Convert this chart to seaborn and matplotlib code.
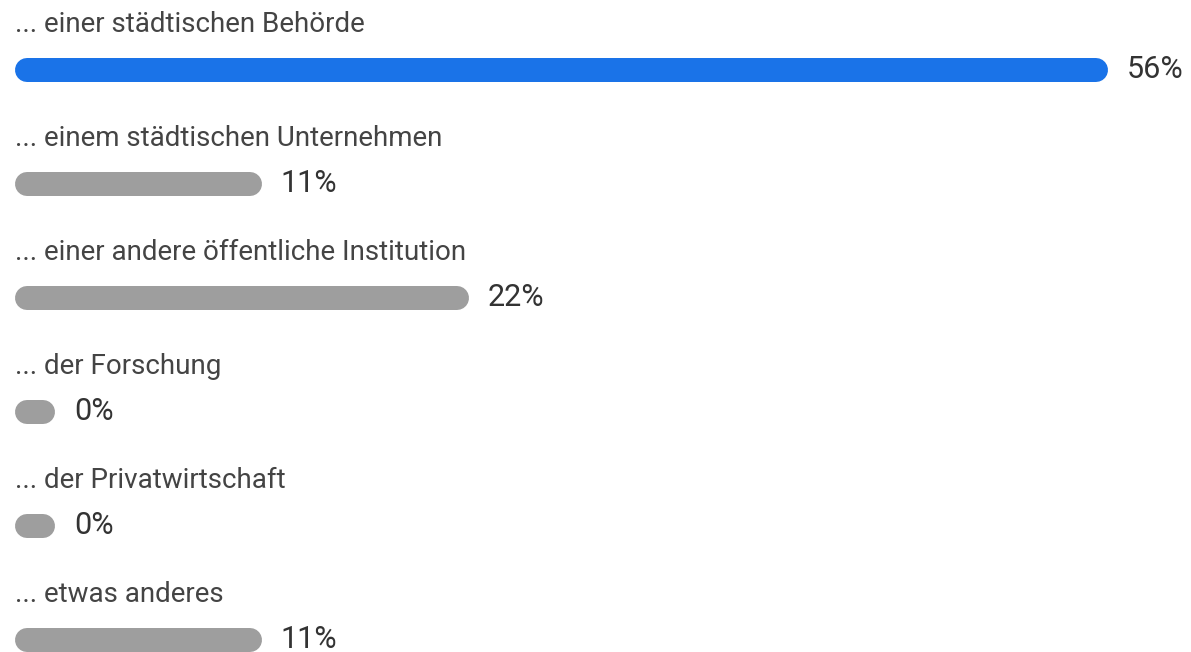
import seaborn as sns
import matplotlib.pyplot as plt
import pandas as pd

# answers and share of responses (%)
labels = [
    "... einer städtischen Behörde",
    "... einem städtischen Unternehmen",
    "... einer andere öffentliche Institution",
    "... der Forschung",
    "... der Privatwirtschaft",
    "... etwas anderes",
]
values = [56, 11, 22, 0, 0, 11]
colors = ["#1a73e8", "#9e9e9e", "#9e9e9e", "#9e9e9e", "#9e9e9e", "#9e9e9e"]

df = pd.DataFrame({"label": labels, "value": values})

sns.set_theme(style="white")
plt.rcParams["font.family"] = ["Roboto", "DejaVu Sans"]

W, H = 1191, 652
fig = plt.figure(figsize=(W / 100, H / 100), dpi=100)
ax = fig.add_axes([0, 0, 1, 1])

# pixel geometry of the layout
px_per_pct = 18.8
left_px = 15
min_px = 40          # width of an empty (0%) pill
bar_px = 24          # bar thickness
row0_px, row_step = 70, 114

pad = min_px / px_per_pct
r = (bar_px / 2) / px_per_pct
x0 = -pad - left_px / px_per_pct

sns.barplot(data=df, x="value", y="label", orient="h", ax=ax,
            palette=colors, hue="label", legend=False, width=0.2)

ax.set_xlim(x0, x0 + W / px_per_pct)
ax.set_ylim((H - row0_px) / row_step, -row0_px / row_step)

# turn every bar into a rounded pill
for patch, v, c in zip(ax.patches, values, colors):
    yc = patch.get_y() + patch.get_height() / 2
    patch.set_visible(False)
    ax.plot([-pad + r, v - r], [yc, yc], color=c, lw=bar_px * 0.72,
            solid_capstyle="round")
    ax.text(v + 19 / px_per_pct, yc - 3 / row_step, f"{v}%", ha="left",
            va="center_baseline", fontsize=22, color="#333333")
    ax.text(-pad, yc - 38 / row_step, labels[int(round(yc))], ha="left",
            va="baseline", fontsize=20, color="#444444")

ax.set_axis_off()
fig.savefig("out.png", dpi=100)
